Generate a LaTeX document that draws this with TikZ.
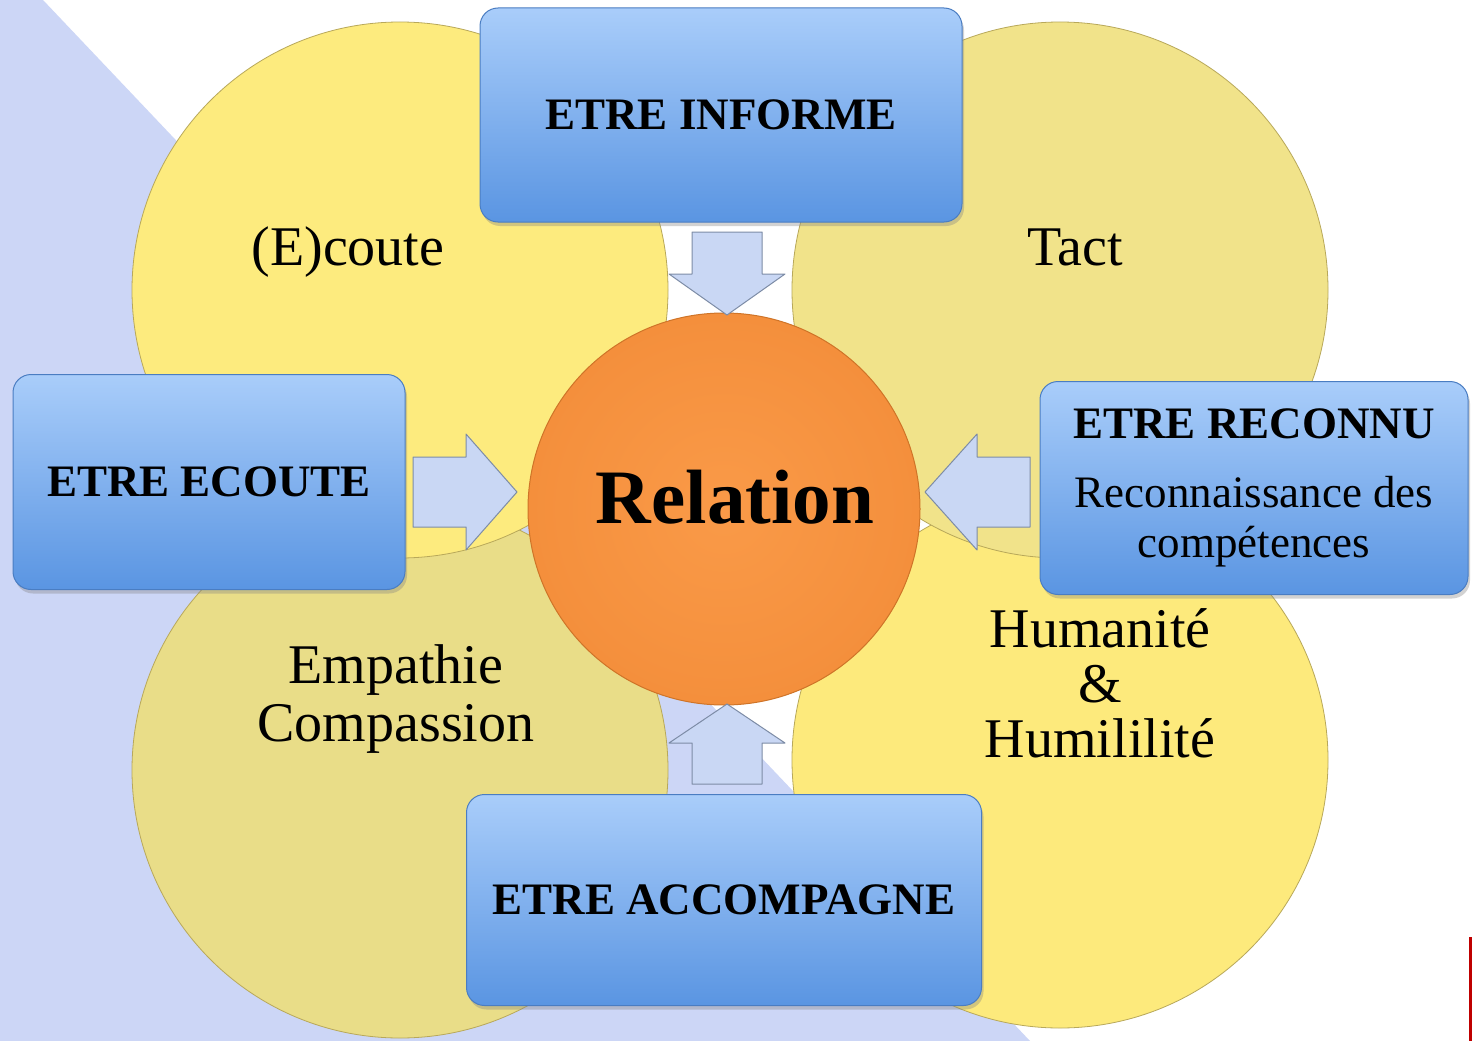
\documentclass[tikz,border=0pt]{standalone}
\usepackage{fontspec}
\setmainfont{Liberation Serif}
\usetikzlibrary{shadows}
\definecolor{lavender}{HTML}{CCD6F6}
\definecolor{petaledge}{HTML}{B8A85A}
\definecolor{petalA}{HTML}{FDEB7E}
\definecolor{petalB}{HTML}{F1E38A}
\definecolor{petalC}{HTML}{E9DD88}
\definecolor{petalD}{HTML}{FDEA7C}
\definecolor{boxtop}{HTML}{A9CDFA}
\definecolor{boxbot}{HTML}{5A95E2}
\definecolor{boxedge}{HTML}{4A7DC2}
\definecolor{orangein}{HTML}{FA9A48}
\definecolor{orangeout}{HTML}{F48F3C}
\definecolor{orangeedge}{HTML}{CF7428}
\definecolor{arrowfill}{HTML}{C9D7F4}
\definecolor{arrowedge}{HTML}{7D8CA6}
\begin{document}
\begin{tikzpicture}[x=1pt,y=-1pt,
  petal/.style={circle, inner sep=0pt, minimum size=536pt, draw=petaledge, line width=0.8pt},
  box/.style={rounded corners=18pt, draw=boxedge, line width=1pt, top color=boxtop, bottom color=boxbot,
    inner sep=0pt, align=center, font=\fontsize{45}{50}\selectfont\bfseries,
    drop shadow={shadow xshift=2pt, shadow yshift=-4pt, opacity=.35}},
  word/.style={font=\fontsize{56}{58}\selectfont, align=center, inner sep=0pt},
  barrow/.style={draw=arrowedge, line width=1pt, fill=arrowfill, line join=round}
]
\useasboundingbox (0,0) rectangle (1472,1041);
\fill[white] (0,0) rectangle (1472,1041);
\fill[lavender] (0,0) -- (43,0) -- (1030,1041) -- (0,1041) -- cycle;
\fill[red!75!black] (1469,937) rectangle (1472,1041);

% petals, lower ones first
\node[petal, fill=petalC] (pBL) at (400,770) {};
\node[petal, fill=petalD] (pBR) at (1060,760) {};
\node[petal, fill=petalA] (pTL) at (400,290) {};
\node[petal, fill=petalB] (pTR) at (1060,290) {};

\node[circle, minimum size=392pt, inner sep=0pt, draw=orangeedge, line width=1pt,
  inner color=orangein, outer color=orangeout] (rel) at (724,509) {};
\node[font=\fontsize{77}{80}\selectfont\bfseries, inner sep=0pt] (reltxt) at (735,497) {Relation};

% block arrows towards the centre
\foreach \tx/\ty/\ang/\len/\hd in {727/315/-90/83/41, 727/704/90/80/39, 517/492/0/104/51, 925/492/180/105/52}
  \draw[barrow, shift={(\tx,\ty)}, rotate=\ang] (0,0) -- (-\hd,-58) -- (-\hd,-35) -- (-\len,-35)
    -- (-\len,35) -- (-\hd,35) -- (-\hd,58) -- cycle;

\node[box, minimum width=482pt, minimum height=214pt] (inform) at (721,115) {ETRE INFORME};
\node[box, minimum width=392pt, minimum height=215pt] (ecoute) at (209,482) {ETRE ECOUTE};
\node[box, minimum width=428pt, minimum height=213pt] (reconnu) at (1254,488)
  {ETRE RECONNU\\[19pt]{\mdseries Reconnaissance des}\\{\mdseries compétences}};
\node[box, minimum width=515pt, minimum height=211pt] (accomp) at (724,900) {ETRE ACCOMPAGNE};

\node[word] (lEcoute) at (348,252) {(E)coute};
\node[word] (lTact) at (1075,247) {Tact};
\node[word] (lEmp) at (396,699) {Empathie\\Compassion};
\node[word, font=\fontsize{56}{55}\selectfont] (lHum) at (1100,683) {Humanité\\\&\\Humililité};
\end{tikzpicture}
\end{document}
